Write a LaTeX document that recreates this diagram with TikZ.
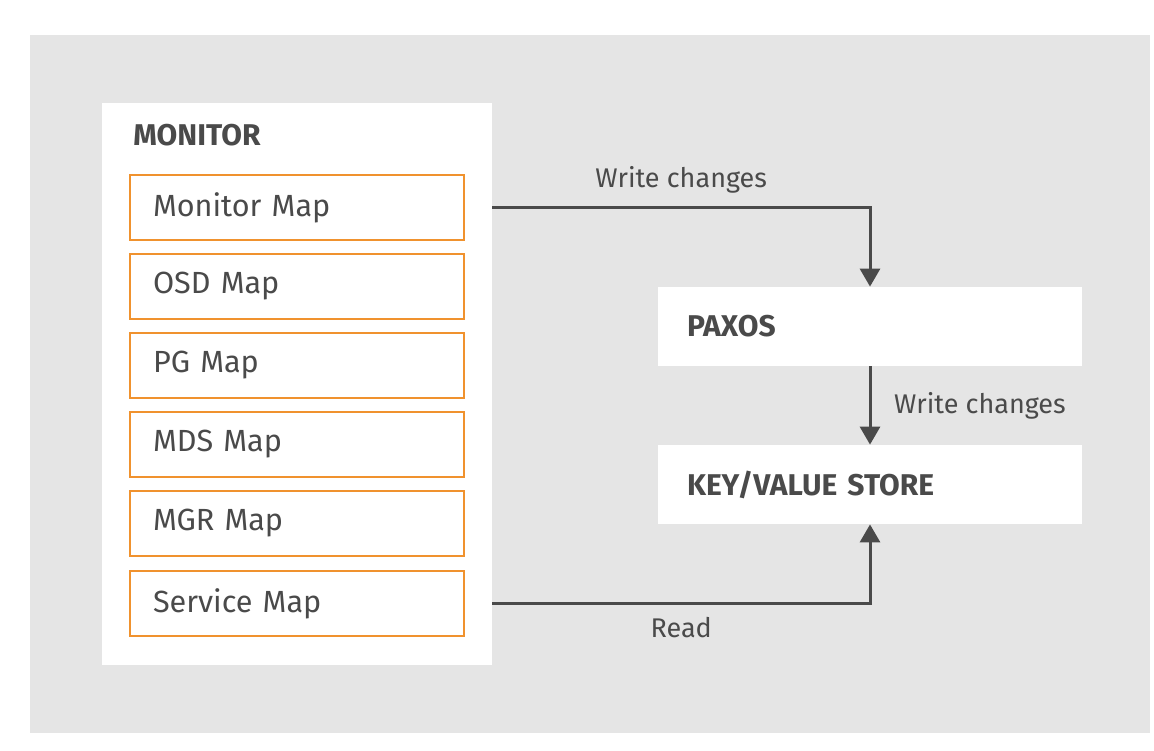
\documentclass[tikz,border=0pt]{standalone}
\usepackage{fontspec}
\setmainfont{Fira Sans}
\usetikzlibrary{arrows.meta}

\definecolor{bggrey}{HTML}{E5E5E5}
\definecolor{mporange}{HTML}{F0922E}
\definecolor{ink}{HTML}{4A4A4A}

\tikzset{
  mapbox/.style={draw=mporange, line width=1pt, fill=white, text width=144pt, inner xsep=11.5pt, minimum height=32.5pt, align=left, text=ink, font=\fontsize{15.3}{18}\selectfont},
  storebox/.style={fill=white, text width=183pt, inner xsep=14.5pt, minimum height=39.5pt, align=left, text=ink, font=\fontsize{15}{18}\selectfont\bfseries},
  flow/.style={draw=ink, line width=1.5pt, -{Triangle[length=9pt,width=10pt]}},
  flowlabel/.style={text=ink, font=\fontsize{13.5}{16}\selectfont}
}

\begin{document}
\begin{tikzpicture}[x=0.5pt,y=-0.5pt]
    \useasboundingbox[fill=white] (0,0) rectangle (1154,750);
    \fill[bggrey] (30,35) rectangle (1150,733);

    % monitor box
    \node[fill=white, minimum width=195pt, minimum height=281pt, inner sep=0pt] (monitor) at (297,384) {};
    \node[anchor=west, inner sep=0pt, text=ink, font=\fontsize{15}{18}\selectfont\bfseries] (montitle) at (133,135) {MONITOR};

    \node[mapbox] (monmap) at (297,207.5) {Monitor Map};
    \node[mapbox] (osdmap) at (297,286) {OSD Map};
    \node[mapbox] (pgmap) at (297,365) {PG Map};
    \node[mapbox] (mdsmap) at (297,444) {MDS Map};
    \node[mapbox] (mgrmap) at (297,523.5) {MGR Map};
    \node[mapbox] (svcmap) at (297,603.5) {Service Map};

    % stores
    \node[storebox] (paxos) at (870,326.5) {PAXOS};
    \node[storebox] (kv) at (870,484.5) {KEY/VALUE STORE};

    % connectors
    \draw[flow] (monitor.east |- monmap.east) -| node[pos=0.25, above=3pt, flowlabel] {Write changes} (paxos.north);
    \draw[flow] (paxos.south) -- node[right=8pt, flowlabel] {Write changes} (kv.north);
    \draw[flow] (monitor.east |- svcmap.east) -| node[pos=0.25, below=3pt, flowlabel] {Read} (kv.south);
\end{tikzpicture}
\end{document}
